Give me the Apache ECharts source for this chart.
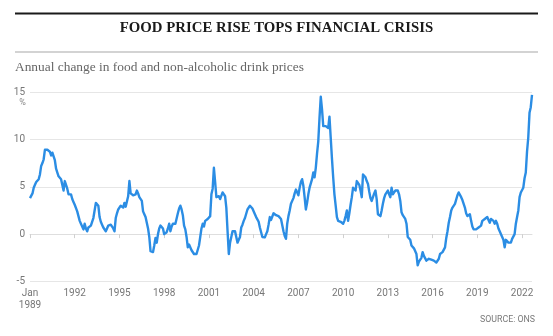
<!DOCTYPE html>
<html>
<head>
<meta charset="utf-8">
<script src="https://cdn.jsdelivr.net/npm/echarts@6/dist/echarts.min.js"></script>
<style>
  html, body { margin: 0; padding: 0; background: #ffffff; }
  #chart { width: 553px; height: 336px; }
</style>
</head>
<body>
<div id="chart"></div>
<script>
// ---- Data (annual % change, monthly, Jan 1989 - Sep 2022) ----
const startYear = 1989;
const titleText = 'FOOD PRICE RISE TOPS FINANCIAL CRISIS';
const subtitleText = 'Annual change in food and non-alcoholic drink prices';
const sourceText = 'SOURCE: ONS';
const yTicks = [-5, 0, 5, 10, 15];

const values1989_1996 = [
  3.8, 3.6, 4.3, 4.9, 5.2, 5.5, 5.7, 5.8, 6.3, 7.2, 7.5, 7.9,
  8.9, 9.0, 8.9, 8.8, 8.7, 8.3, 8.6, 8.2, 7.8, 6.9, 6.5, 6.1,
  6.0, 5.8, 5.7, 4.6, 5.6, 5.5, 4.8, 4.2, 4.2, 4.2, 3.7, 3.4,
  3.1, 2.9, 2.4, 1.9, 1.4, 1.1, 0.9, 0.5, 1.1, 0.6, 0.3, 0.7,
  0.5, 0.9, 1.3, 1.7, 2.5, 3.3, 3.4, 3.0, 1.8, 1.3, 1.0, 0.7,
  0.5, 0.3, 0.6, 0.9, 1.1, 1.0, 1.1, 0.6, 0.3, 1.7, 2.2, 2.6,
  2.6, 3.0, 2.9, 2.8, 3.3, 2.9, 2.7, 4.0, 5.6, 4.3, 4.1, 4.1,
  4.1, 4.2, 4.6, 4.3, 3.9, 3.7, 3.5, 2.4, 2.1, 1.8, 1.2, 0.6
];
const values1997_2004 = [
  -0.3, -1.8, -2.0, -1.9, -1.2, -0.4, -0.9, 0.0, 0.6, 0.9, 1.1, 0.6,
  0.0, -0.1, 0.2, 0.6, 1.1, 0.3, 0.8, 1.1, 1.0, 1.1, 1.3, 2.2,
  2.7, 3.0, 2.6, 2.0, 0.9, 0.5, -0.3, -1.4, -1.1, -1.0, -1.7, -1.9,
  -2.1, -2.2, -2.1, -1.9, -1.2, -0.3, 0.6, 1.1, 0.8, 1.4, 1.5, 1.6,
  1.6, 1.9, 4.2, 4.8, 7.0, 5.5, 3.9, 4.1, 4.0, 3.7, 3.5, 4.4,
  4.2, 4.0, 2.8, 0.3, -2.1, -0.9, -0.3, 0.3, 0.4, 0.3, 0.2, -0.9,
  -0.6, -0.3, 0.7, 1.0, 1.4, 1.7, 1.9, 2.6, 2.8, 3.0, 3.2, 2.7,
  2.5, 2.1, 1.8, 1.6, 1.3, 0.7, 0.2, -0.3, -0.4, -0.35, 0.0, 0.3
];
const values2005_2012 = [
  1.0, 1.8, 1.5, 1.4, 2.2, 2.2, 2.0, 2.0, 1.9, 1.8, 1.6, 1.4,
  0.3, -0.2, -0.5, 1.1, 1.9, 2.5, 3.2, 3.3, 3.8, 4.3, 4.7, 4.6,
  4.1, 4.9, 5.5, 5.8, 5.1, 3.9, 2.6, 3.3, 4.2, 4.9, 5.1, 5.8,
  6.5, 6.0, 7.0, 8.5, 9.8, 12.3, 14.5, 13.2, 11.4, 11.5, 11.4, 11.6,
  11.2, 12.4, 10.2, 8.0, 6.0, 4.2, 3.0, 1.8, 1.4, 1.4, 1.3, 1.2,
  1.1, 1.4, 1.9, 2.5, 1.4, 2.2, 3.1, 3.9, 4.9, 4.7, 4.6, 5.6,
  5.6, 5.2, 4.6, 3.9, 6.3, 6.1, 6.0, 5.6, 5.3, 4.5, 3.8, 3.5,
  3.9, 4.3, 4.6, 3.7, 2.1, 2.0, 1.9, 2.5, 3.2, 3.8, 4.2, 4.2
];
const values2013_2022 = [
  4.6, 4.2, 3.9, 4.9, 4.2, 4.4, 4.6, 4.7, 4.6, 4.2, 3.5, 2.3,
  2.0, 1.8, 1.6, 1.1, -0.3, -0.4, -0.6, -1.2, -1.4, -1.5, -1.7, -2.1,
  -3.3, -2.9, -2.8, -2.5, -1.9, -2.3, -2.5, -2.8, -2.6, -2.6, -2.5, -2.7,
  -2.6, -2.8, -2.7, -3.0, -3.2, -2.6, -2.1, -1.9, -1.9, -1.7, -1.4, -0.4,
  0.3, 1.2, 1.8, 2.5, 2.8, 2.6, 3.2, 3.3, 4.1, 4.4, 4.3, 3.9,
  3.6, 3.2, 2.8, 2.2, 1.9, 2.0, 2.1, 1.4, 0.8, 0.5, 0.3, 0.5,
  0.6, 0.7, 0.5, 0.9, 1.4, 1.5, 1.6, 1.4, 1.8, 1.5, 1.2, 1.6,
  1.5, 1.4, 1.1, 1.4, 1.1, 0.6, 0.3, 0.15, -0.3, -0.6, -1.4, -0.6,
  -0.7, -0.9, -0.7, -0.9, -0.5, -0.3, 0.0, 1.1, 1.8, 2.5, 3.9, 4.4,
  4.5, 4.9, 5.9, 6.5, 8.7, 10.2, 12.8, 13.4, 14.7
];

const values = [].concat(values1989_1996, values1997_2004, values2005_2012, values2013_2022);
const months = values.map(function (_, i) {
  const y = startYear + Math.floor(i / 12);
  const m = (i % 12) + 1;
  return y + '-' + (m < 10 ? '0' + m : '' + m);
});

const chart = echarts.init(document.getElementById('chart'), null, { renderer: 'canvas' });
const sans = 'Roboto, "Liberation Sans", sans-serif';
const serif = '"Liberation Serif", "DejaVu Serif", serif';

chart.setOption({
  animation: false,
  backgroundColor: '#ffffff',
  title: [
    {
      text: titleText, left: 'center', top: 21, padding: 0,
      textStyle: { fontFamily: serif, fontWeight: 'bold', fontSize: 14.8, color: '#1a1a1a' }
    },
    {
      text: subtitleText, left: 15, top: 61, padding: 0,
      textStyle: { fontFamily: serif, fontWeight: 'normal', fontSize: 13.4, color: '#666666' }
    },
    {
      text: sourceText, right: 18, top: 315, padding: 0,
      textStyle: { fontFamily: sans, fontWeight: 'normal', fontSize: 8.8, color: '#7a7a7a' }
    }
  ],
  graphic: [
    { type: 'rect', shape: { x: 15, y: 12.5, width: 523, height: 2 }, style: { fill: '#1a1a1a' }, silent: true },
    { type: 'rect', shape: { x: 15, y: 51.5, width: 523, height: 1 }, style: { fill: '#a8a8a8' }, silent: true },
    { type: 'text', x: 22.5, y: 103, style: { text: '%', fontFamily: sans, fontSize: 9, fill: '#888', align: 'center', verticalAlign: 'middle' }, silent: true }
  ],
  grid: { left: 30, right: 21, top: 92, bottom: 54.5, containLabel: false },
  xAxis: {
    type: 'category',
    data: months,
    boundaryGap: false,
    axisLine: { show: true, lineStyle: { color: '#dedede', width: 1 } },
    axisTick: { show: true, interval: 35, length: 4, lineStyle: { color: '#d0d0d0' } },
    axisLabel: {
      interval: 35, margin: 6, color: '#777', fontFamily: sans, fontSize: 10, lineHeight: 12,
      formatter: function (val, idx) { return idx === 0 ? 'Jan\n' + val.slice(0, 4) : val.slice(0, 4); }
    },
    splitLine: { show: false }
  },
  yAxis: {
    type: 'value',
    min: yTicks[0], max: yTicks[yTicks.length - 1], interval: 5,
    axisLine: { show: false },
    axisTick: { show: false },
    axisLabel: { margin: 5, color: '#777', fontFamily: sans, fontSize: 10 },
    splitLine: { show: true, lineStyle: { color: '#e6e6e6', width: 1 } }
  },
  series: [{
    type: 'line',
    data: values,
    showSymbol: false,
    symbol: 'none',
    lineStyle: { color: '#2b8de4', width: 2.4, join: 'round' },
    emphasis: { disabled: true }
  }]
});
</script>
</body>
</html>
